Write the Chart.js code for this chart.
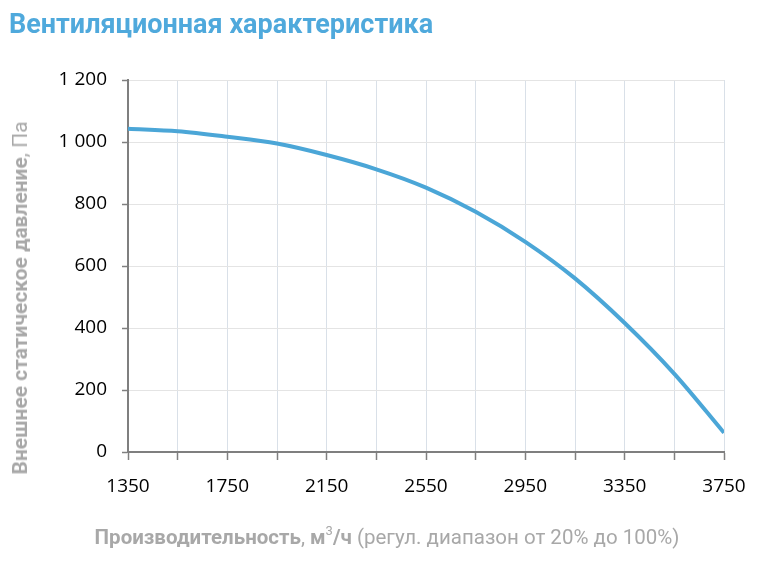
<!DOCTYPE html>
<html lang="ru">
<head>
<meta charset="utf-8">
<script src="https://cdn.jsdelivr.net/npm/chart.js@4.4.1/dist/chart.umd.min.js"></script>
<style>
  html, body { margin: 0; padding: 0; background: #fff; }
  #wrap { position: relative; width: 762px; height: 565px; overflow: hidden; }
  #chart { position: absolute; left: 0; top: 0; }
  .title {
    position: absolute; left: 9px; top: 8px;
    font: bold 27px Roboto, sans-serif; color: #4fa9dc; white-space: nowrap;
  }
  .ytitle {
    position: absolute; left: 20px; top: 298px;
    transform: translate(-50%, -50%) rotate(-90deg);
    font: 21px Roboto, sans-serif; color: #a8a8a8; white-space: nowrap;
  }
  .xtitle {
    position: absolute; left: 387px; top: 537px;
    transform: translate(-50%, -50%);
    font: 20.5px Roboto, sans-serif; color: #a8a8a8; white-space: nowrap;
  }
  .xtitle sup { font-size: 13px; font-weight: normal; vertical-align: 9px; line-height: 0; }
</style>
</head>
<body>
<div id="wrap">
  <canvas id="chart" width="762" height="565"></canvas>
  <div class="title">Вентиляционная характеристика</div>
  <div class="ytitle"><b>Внешнее статическое давление</b>, Па</div>
  <div class="xtitle"><b>Производительность</b>, <b>м<sup>3</sup>/ч</b> (регул. диапазон от 20% до 100%)</div>
</div>
<script>
// Airflow (m3/h) and external static pressure (Pa)
const airflow = [1350, 1550, 1750, 1950, 2150, 2350, 2550, 2750, 2950, 3150, 3350, 3550, 3750];
const pressure = [1043, 1035, 1017, 995, 958, 912, 853, 775, 678, 560, 416, 252, 62];

// Tick labels as printed on the axes
const xTickLabels = ['1350', '1750', '2150', '2550', '2950', '3350', '3750'];
const yTickLabels = ['0', '200', '400', '600', '800', '1 000', '1 200'];

const tickFont = { family: 'Open Sans', size: 19 };

new Chart(document.getElementById('chart'), {
  type: 'line',
  data: {
    datasets: [{
      data: airflow.map((x, i) => ({ x: x, y: pressure[i] })),
      borderColor: '#4ba6d7',
      borderWidth: 4,
      pointRadius: 0,
      cubicInterpolationMode: 'monotone',
      fill: false
    }]
  },
  options: {
    responsive: false,
    devicePixelRatio: 1,
    animation: false,
    layout: { padding: { left: 0, right: 38, top: 80, bottom: 73 } },
    plugins: {
      legend: { display: false },
      tooltip: { enabled: false }
    },
    scales: {
      x: {
        type: 'linear',
        min: 1350,
        max: 3750,
        afterFit: s => { s.height = 40; },
        ticks: {
          stepSize: 200,
          autoSkip: false,
          maxRotation: 0,
          padding: 15,
          color: '#000',
          font: tickFont,
          callback: function(value) {
            const idx = (value - 1350) / 400;
            return Number.isInteger(idx) ? xTickLabels[idx] : '';
          }
        },
        grid: { color: '#d9e0e8', lineWidth: 1, tickLength: 8, tickColor: '#808080', tickWidth: 1.5 },
        border: { color: '#7f7f7f', width: 2 }
      },
      y: {
        min: 0,
        max: 1200,
        afterFit: s => { s.width = 128; },
        ticks: {
          stepSize: 200,
          padding: 15,
          color: '#000',
          font: tickFont,
          callback: function(value) {
            return yTickLabels[value / 200];
          }
        },
        grid: { color: '#e4e4e4', lineWidth: 1, tickLength: 6, tickColor: '#808080', tickWidth: 1.5 },
        border: { color: '#7f7f7f', width: 2 }
      }
    }
  }
});
</script>
</body>
</html>
